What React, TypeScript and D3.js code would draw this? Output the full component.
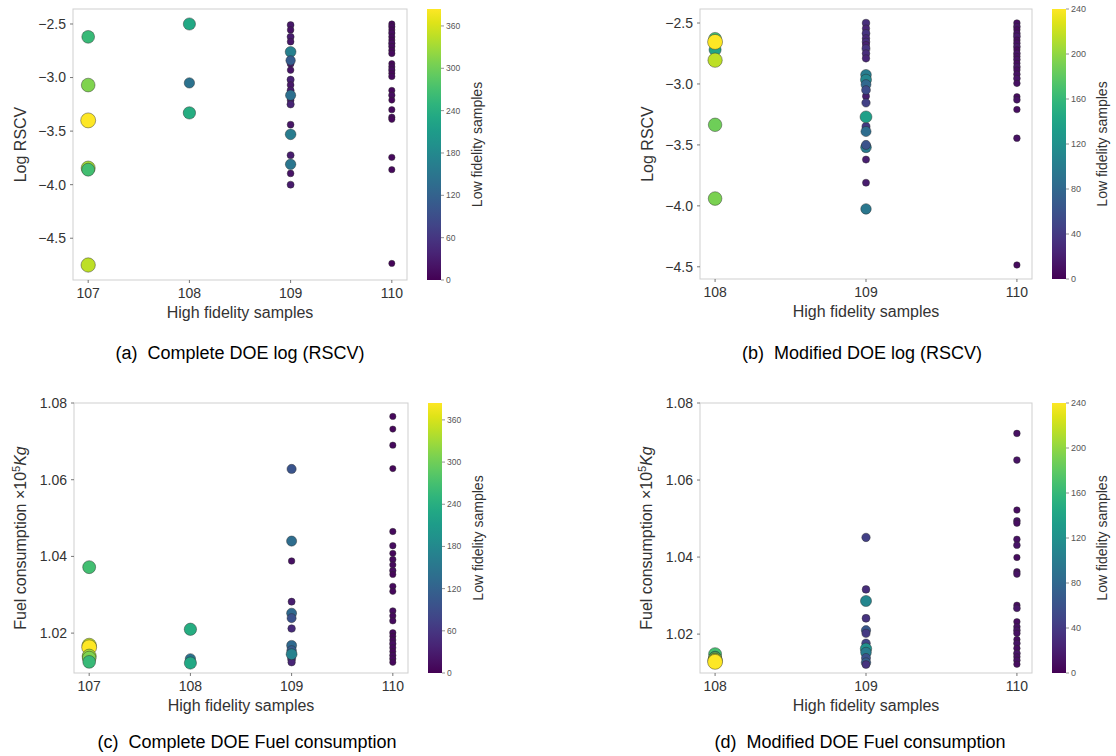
import React from 'react';
import * as d3 from 'd3';

// ---------------- DATA ----------------
// (a) Complete DOE – log(RSCV)
const A_HF = [107, 108, 109, 110];
const A_LOG = [
  [-2.62, -3.07, -3.40, -3.845, -3.86, -4.75],
  [-2.50, -3.05, -3.33],
  [-2.51, -2.555, -2.62, -2.665, -2.87, -2.93, -3.02, -3.07, -3.12, -3.21, -3.25, -3.44, -3.725, -3.895, -4.0, -2.76, -2.84, -3.165, -3.53, -3.81],
  [-2.50, -2.525, -2.555, -2.585, -2.62, -2.65, -2.68, -2.71, -2.745, -2.775, -2.87, -2.90, -2.93, -2.96, -2.99, -3.12, -3.165, -3.21, -3.30, -3.37, -3.39, -3.745, -3.86, -4.735],
];
const A_LF = [
  [258, 310, 384, 330, 268, 345],
  [230, 145, 238],
  [25, 18, 30, 22, 28, 20, 35, 24, 30, 26, 38, 22, 30, 20, 28, 165, 110, 140, 160, 150],
  [8, 10, 6, 12, 9, 7, 14, 11, 8, 10, 6, 9, 13, 7, 10, 8, 12, 6, 9, 11, 7, 10, 8, 5],
];

// (b) Modified DOE – log(RSCV)
const B_HF = [108, 109, 110];
const B_LOG = [
  [-2.63, -2.72, -2.655, -2.805, -3.335, -3.94],
  [-2.50, -2.545, -2.585, -2.625, -2.655, -2.68, -2.71, -2.75, -2.79, -3.10, -3.35, -3.62, -3.81, -2.925, -2.965, -3.005, -3.05, -3.155, -3.27, -3.39, -3.52, -3.50, -4.025],
  [-2.50, -2.53, -2.555, -2.585, -2.61, -2.64, -2.665, -2.695, -2.72, -2.75, -2.775, -2.80, -2.83, -2.86, -2.885, -2.92, -2.955, -2.995, -3.105, -3.13, -3.21, -3.445, -4.485],
];
const B_LF = [
  [168, 140, 240, 216, 187, 192],
  [30, 25, 35, 28, 32, 22, 36, 30, 26, 20, 40, 20, 18, 100, 110, 80, 55, 45, 135, 85, 100, 60, 95],
  [10, 14, 8, 12, 16, 9, 11, 15, 7, 13, 10, 12, 8, 14, 9, 11, 13, 10, 8, 12, 9, 11, 7],
];

// (c) Complete DOE – fuel consumption (x1e5 kg)
const C_HF = [107, 108, 109, 110];
const C_FUEL = [
  [1.0372, 1.0168, 1.0163, 1.0140, 1.0135, 1.0125],
  [1.0210, 1.0133, 1.0122],
  [1.0628, 1.0440, 1.0388, 1.0282, 1.0252, 1.0239, 1.0212, 1.0168, 1.0155, 1.0133, 1.0124, 1.0145],
  [1.0765, 1.0732, 1.0690, 1.0629, 1.0465, 1.0428, 1.0408, 1.0392, 1.0378, 1.0363, 1.0353, 1.0322, 1.0309, 1.0258, 1.0245, 1.0232, 1.0201, 1.0192, 1.0182, 1.0172, 1.0162, 1.0152, 1.0142, 1.0133, 1.0124],
];
const C_LF = [
  [268, 345, 384, 330, 310, 258],
  [238, 145, 230],
  [100, 135, 15, 30, 130, 95, 45, 130, 110, 60, 40, 170],
  [8, 6, 9, 7, 10, 12, 8, 11, 9, 13, 7, 10, 8, 12, 9, 11, 10, 6, 8, 14, 9, 7, 11, 10, 8],
];

// (d) Modified DOE – fuel consumption (x1e5 kg)
const D_HF = [108, 109, 110];
const D_FUEL = [
  [1.0148, 1.0140, 1.0136, 1.0133, 1.0131, 1.0128],
  [1.0451, 1.0316, 1.0286, 1.0241, 1.0210, 1.0202, 1.0176, 1.0162, 1.0152, 1.0138, 1.0126, 1.0121],
  [1.0721, 1.0652, 1.0522, 1.0494, 1.0488, 1.0446, 1.0431, 1.0399, 1.0362, 1.0356, 1.0275, 1.0267, 1.0232, 1.0219, 1.0210, 1.0202, 1.0186, 1.0176, 1.0163, 1.0150, 1.0141, 1.0132, 1.0122],
];
const D_LF = [
  [168, 140, 192, 187, 216, 240],
  [45, 30, 110, 35, 65, 40, 50, 120, 100, 60, 70, 35],
  [10, 12, 8, 14, 9, 11, 13, 7, 10, 12, 8, 15, 9, 11, 13, 10, 8, 12, 9, 14, 10, 11, 8],
];

const LOG_TICKS = [-2.5, -3.0, -3.5, -4.0, -4.5];
const FUEL_TICKS = [1.02, 1.04, 1.06, 1.08];
const CB_TICKS_A = [0, 60, 120, 180, 240, 300, 360];
const CB_TICKS_B = [0, 40, 80, 120, 160, 200, 240];
const CAPTIONS = [
  '(a)  Complete DOE log (RSCV)',
  '(b)  Modified DOE log (RSCV)',
  '(c)  Complete DOE Fuel consumption',
  '(d)  Modified DOE Fuel consumption',
];

// ---------------- DRAWING ----------------
const FONT = "'Liberation Sans', Arial, Helvetica, sans-serif";
const TXT = '#333333';

type PanelProps = {
  id: string;
  frame: { x0: number; x1: number; y0: number; y1: number };
  xDomain: [number, number];
  yDomain: [number, number];
  cols: number[];
  ys: number[][];
  lfs: number[][];
  vmax: number;
  yTicks: number[];
  yFmt: string;
  cbTicks: number[];
  cbFont: number;
  fuel: boolean;
};

function Panel(p: PanelProps) {
  const { frame: f } = p;
  const x = d3.scaleLinear().domain(p.xDomain).range([f.x0, f.x1]);
  const y = d3.scaleLinear().domain(p.yDomain).range([f.y1, f.y0]);
  const cb = d3.scaleLinear().domain([0, p.vmax]).range([f.y1, f.y0]);
  const r = (t: number) => Math.sqrt(9 + 47.25 * t);
  const fmt = d3.format(p.yFmt);
  const cx0 = f.x1 + 20;
  const cx1 = cx0 + 14;
  const stops = d3.range(0, 1.0001, 0.05);
  const midY = (f.y0 + f.y1) / 2;
  const midX = (f.x0 + f.x1) / 2;
  return (
    <g>
      <defs>
        <linearGradient id={`grad-${p.id}`} x1="0" y1="1" x2="0" y2="0">
          {stops.map((t) => (
            <stop key={t} offset={t} stopColor={d3.interpolateViridis(t)} />
          ))}
        </linearGradient>
      </defs>
      <rect x={f.x0} y={f.y0} width={f.x1 - f.x0} height={f.y1 - f.y0} fill="#fff" stroke="#cfcfcf" strokeWidth={1} />
      {p.yTicks.map((t) => (
        <g key={t}>
          <line x1={f.x0 - 3} x2={f.x0} y1={y(t)} y2={y(t)} stroke="#555" strokeWidth={0.8} />
          <text x={f.x0 - 7} y={y(t)} dy="0.35em" textAnchor="end" fontSize={14} fill={TXT} fontFamily={FONT}>
            {fmt(t).replace('-', '\u2212')}
          </text>
        </g>
      ))}
      {p.cols.map((t) => (
        <g key={t}>
          <line x1={x(t)} x2={x(t)} y1={f.y1} y2={f.y1 + 3} stroke="#555" strokeWidth={0.8} />
          <text x={x(t)} y={f.y1 + 18} textAnchor="middle" fontSize={14} fill={TXT} fontFamily={FONT}>
            {t}
          </text>
        </g>
      ))}
      {p.cols.map((c, i) =>
        p.ys[i].map((v, j) => {
          const t = p.lfs[i][j] / p.vmax;
          return (
            <circle
              key={`${i}-${j}`}
              cx={x(c)}
              cy={y(v)}
              r={r(t)}
              fill={d3.interpolateViridis(t)}
              stroke="#2a2a2a"
              strokeOpacity={0.55}
              strokeWidth={0.8}
            />
          );
        })
      )}
      <text x={midX} y={f.y1 + 38} textAnchor="middle" fontSize={16} fill={TXT} fontFamily={FONT}>
        High fidelity samples
      </text>
      {p.fuel ? (
        <text transform={`translate(${f.x0 - 54},${midY}) rotate(-90)`} textAnchor="middle" dy="0.35em" fontSize={16} fill={TXT} fontFamily={FONT}>
          Fuel consumption ×10
          <tspan dy={-6} fontSize={11}>5</tspan>
          <tspan dy={6} fontStyle="italic">Kg</tspan>
        </text>
      ) : (
        <text transform={`translate(${f.x0 - 53},${midY}) rotate(-90)`} textAnchor="middle" dy="0.35em" fontSize={16} fill={TXT} fontFamily={FONT}>
          Log RSCV
        </text>
      )}
      <rect x={cx0} y={f.y0} width={cx1 - cx0} height={f.y1 - f.y0} fill={`url(#grad-${p.id})`} />
      {p.cbTicks.map((t) => (
        <g key={t}>
          <line x1={cx1} x2={cx1 + 3} y1={cb(t)} y2={cb(t)} stroke="#666" strokeWidth={0.7} />
          <text x={cx1 + 5} y={cb(t)} dy="0.35em" fontSize={p.cbFont} fill="#555" fontFamily={FONT}>
            {t}
          </text>
        </g>
      ))}
      <text transform={`translate(${cx1 + 36},${midY}) rotate(-90)`} textAnchor="middle" dy="0.35em" fontSize={14} fill={TXT} fontFamily={FONT}>
        Low fidelity samples
      </text>
    </g>
  );
}

export default function App() {
  const cap = { fontSize: 18, fill: '#000', fontFamily: FONT, textAnchor: 'middle' as const };
  return (
    <svg width={1116} height={756} style={{ position: 'absolute', left: 0, top: 0, background: '#fff' }}>
      <rect width={1116} height={756} fill="#fff" />
      <Panel id="a" frame={{ x0: 73, x1: 407, y0: 9, y1: 280 }} xDomain={[106.85, 110.15]} yDomain={[-4.89, -2.36]}
        cols={A_HF} ys={A_LOG} lfs={A_LF} vmax={384} yTicks={LOG_TICKS} yFmt=".1f" cbTicks={CB_TICKS_A} cbFont={8.5} fuel={false} />
      <Panel id="b" frame={{ x0: 700, x1: 1032, y0: 9, y1: 279 }} xDomain={[107.9, 110.1]} yDomain={[-4.6, -2.385]}
        cols={B_HF} ys={B_LOG} lfs={B_LF} vmax={240} yTicks={LOG_TICKS} yFmt=".1f" cbTicks={CB_TICKS_B} cbFont={9} fuel={false} />
      <Panel id="c" frame={{ x0: 74, x1: 408, y0: 403, y1: 673 }} xDomain={[106.85, 110.15]} yDomain={[1.0096, 1.08]}
        cols={C_HF} ys={C_FUEL} lfs={C_LF} vmax={384} yTicks={FUEL_TICKS} yFmt=".2f" cbTicks={CB_TICKS_A} cbFont={8.5} fuel={true} />
      <Panel id="d" frame={{ x0: 700, x1: 1032, y0: 403, y1: 673 }} xDomain={[107.9, 110.1]} yDomain={[1.0099, 1.08]}
        cols={D_HF} ys={D_FUEL} lfs={D_LF} vmax={240} yTicks={FUEL_TICKS} yFmt=".2f" cbTicks={CB_TICKS_B} cbFont={9} fuel={true} />
      <text x={240} y={359} {...cap} xmlSpace="preserve">{CAPTIONS[0]}</text>
      <text x={862} y={359} {...cap} xmlSpace="preserve">{CAPTIONS[1]}</text>
      <text x={247} y={748} {...cap} xmlSpace="preserve">{CAPTIONS[2]}</text>
      <text x={860} y={748} {...cap} xmlSpace="preserve">{CAPTIONS[3]}</text>
    </svg>
  );
}
